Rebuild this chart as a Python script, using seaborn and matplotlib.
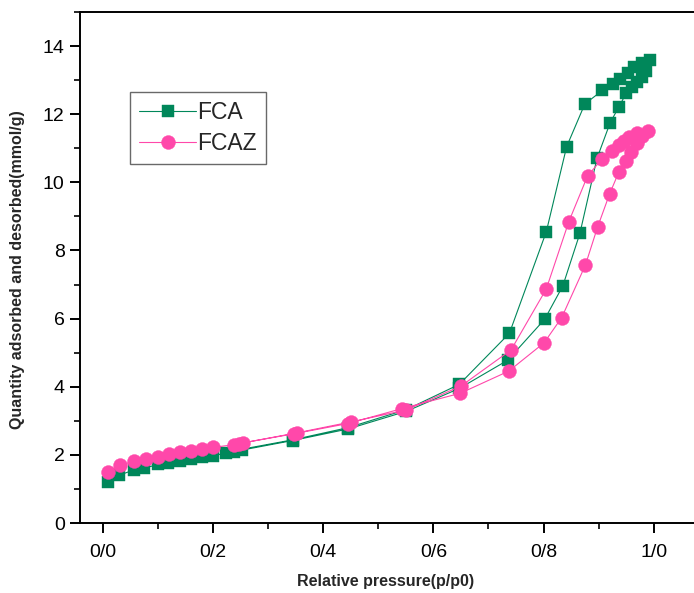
import matplotlib
matplotlib.use("Agg")
import matplotlib.pyplot as plt
import seaborn as sns
import pandas as pd
from matplotlib.ticker import MultipleLocator, FixedLocator

# ---- data ----
fca_ads_x = [0.009, 0.029, 0.056, 0.075, 0.10, 0.118, 0.14, 0.16, 0.18, 0.199, 0.224, 0.238, 0.252,
             0.344, 0.445, 0.551, 0.647, 0.735, 0.802, 0.835, 0.866, 0.897, 0.921, 0.937, 0.950,
             0.960, 0.969, 0.978, 0.987, 0.993]
fca_ads_y = [1.21, 1.40, 1.56, 1.61, 1.72, 1.77, 1.82, 1.87, 1.93, 1.97, 2.06, 2.09, 2.14,
             2.42, 2.76, 3.28, 3.95, 4.78, 5.98, 6.96, 8.50, 10.70, 11.75, 12.22, 12.61,
             12.80, 12.94, 13.10, 13.28, 13.60]
fca_des_x = [0.978, 0.964, 0.953, 0.938, 0.926, 0.907, 0.875, 0.842, 0.805, 0.738, 0.647, 0.551,
             0.445, 0.344, 0.25]
fca_des_y = [13.50, 13.38, 13.20, 13.02, 12.90, 12.70, 12.30, 11.05, 8.55, 5.57, 4.07, 3.33,
             2.80, 2.44, 2.16]

fcaz_ads_x = [0.009, 0.031, 0.056, 0.077, 0.10, 0.12, 0.14, 0.16, 0.18, 0.20, 0.238, 0.246,
              0.347, 0.445, 0.543, 0.649, 0.737, 0.801, 0.833, 0.876, 0.898, 0.92, 0.937,
              0.949, 0.958, 0.969, 0.978, 0.989]
fcaz_ads_y = [1.51, 1.69, 1.82, 1.89, 1.95, 2.02, 2.07, 2.11, 2.17, 2.22, 2.30, 2.33,
              2.62, 2.92, 3.36, 3.81, 4.46, 5.29, 6.03, 7.57, 8.68, 9.66, 10.31,
              10.63, 10.90, 11.16, 11.35, 11.50]
fcaz_des_x = [0.969, 0.956, 0.946, 0.937, 0.924, 0.906, 0.88, 0.846, 0.805, 0.741, 0.65, 0.551,
              0.451, 0.353, 0.254]
fcaz_des_y = [11.44, 11.34, 11.21, 11.11, 10.92, 10.68, 10.19, 8.85, 6.87, 5.08, 4.02, 3.32,
              2.97, 2.65, 2.35]

x_ticks = [0.0, 0.2, 0.4, 0.6, 0.8, 1.0]
x_tick_labels = ["0/0", "0/2", "0/4", "0/6", "0/8", "1/0"]
y_ticks = [0, 2, 4, 6, 8, 10, 12, 14]
y_tick_labels = ["0", "2", "4", "6", "8", "10", "12", "14"]

green = "#00875A"
pink = "#FF48AA"

sns.set_style("ticks")
plt.rcParams['font.family'] = ['Liberation Sans', 'DejaVu Sans']

W, H = 694, 593
fig = plt.figure(figsize=(W / 100, H / 100), dpi=100)
ax_left, ax_right, ax_top, ax_bot = 80, W + 7, 12, 523
ax = fig.add_axes([ax_left / W, 1 - ax_bot / H, (ax_right - ax_left) / W, (ax_bot - ax_top) / H])
aw, ah = ax_right - ax_left, ax_bot - ax_top

df_fca = pd.DataFrame({"x": fca_ads_x + fca_des_x, "y": fca_ads_y + fca_des_y})
df_fcaz = pd.DataFrame({"x": fcaz_ads_x + fcaz_des_x, "y": fcaz_ads_y + fcaz_des_y})

sns.lineplot(data=df_fca, x="x", y="y", sort=False, estimator=None, ax=ax,
             color=green, linewidth=0.8, marker="s", markersize=8, markeredgewidth=0.3,
             markeredgecolor=green, label="FCA", zorder=2)
sns.lineplot(data=df_fcaz, x="x", y="y", sort=False, estimator=None, ax=ax,
             color=pink, linewidth=0.8, marker="o", markersize=10, markeredgewidth=0.3,
             markeredgecolor=pink, label="FCAZ", zorder=3)

ax.set_xlim(-0.042, 1.086)
ax.set_ylim(0, 15)
ax.xaxis.set_major_locator(FixedLocator(x_ticks))
ax.set_xticklabels(x_tick_labels)
ax.xaxis.set_minor_locator(MultipleLocator(0.1))
ax.yaxis.set_major_locator(FixedLocator(y_ticks))
ax.set_yticklabels(y_tick_labels)
ax.yaxis.set_minor_locator(MultipleLocator(1))

for s in ax.spines.values():
    s.set_linewidth(1.4)
    s.set_color("black")
ax.spines['right'].set_visible(False)

ax.tick_params(axis="both", which="major", direction="out", length=7, width=1.4,
               labelsize=14, pad=4, colors="black")
ax.tick_params(axis="both", which="minor", direction="out", length=4, width=1.4)
ax.tick_params(axis="x", pad=8)

ax.set_xlabel("Relative pressure(p/p0)", fontsize=11.5, fontweight="bold")
ax.set_ylabel("Quantity adsorbed and desorbed(mmol/g)", fontsize=11.5, fontweight="bold")
ax.xaxis.set_label_coords((386 - ax_left) / aw, (ax_bot - 574) / ah)
ax.yaxis.set_label_coords((25 - ax_left) / aw, (ax_bot - 270) / ah)

leg = ax.legend(loc="upper left", bbox_to_anchor=(130 / W, 1 - 92 / H),
                bbox_transform=fig.transFigure, fontsize=16.5, frameon=True, fancybox=False,
                handlelength=2.5, handletextpad=0.05, borderpad=0.4, labelspacing=0.35,
                borderaxespad=0, markerscale=1.0)
leg.get_frame().set_edgecolor("#444444")
leg.get_frame().set_linewidth(1.0)

fig.savefig("out.png", dpi=100)
